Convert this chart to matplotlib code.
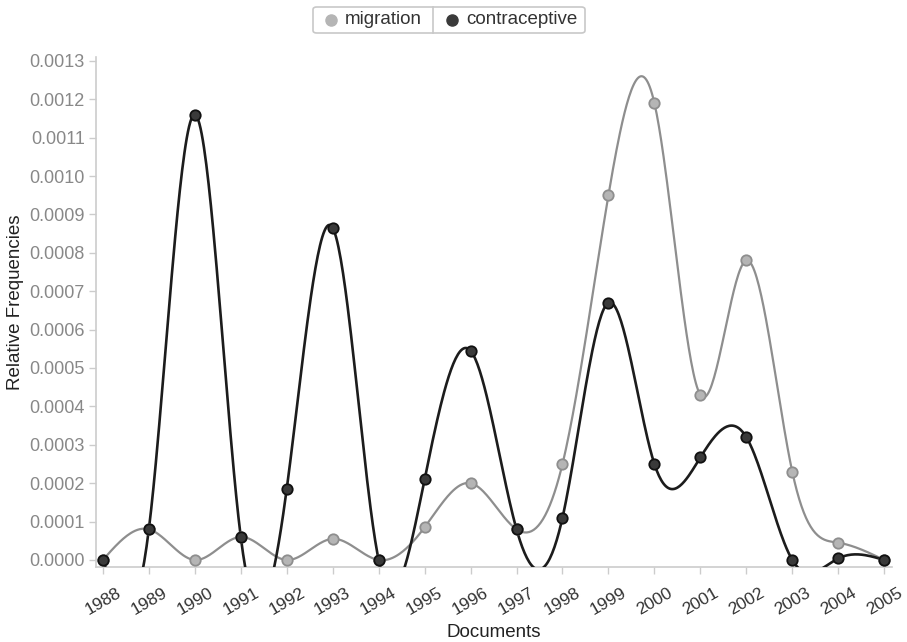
import numpy as np
import matplotlib
matplotlib.use("Agg")
import matplotlib.pyplot as plt
from matplotlib.lines import Line2D
from matplotlib.patches import FancyBboxPatch

plt.rcParams['font.family'] = ['Liberation Sans', 'DejaVu Sans']

years = ["1988", "1989", "1990", "1991", "1992", "1993", "1994", "1995", "1996",
         "1997", "1998", "1999", "2000", "2001", "2002", "2003", "2004", "2005"]
migration = [0.0, 0.00008, 0.0, 0.00006, 0.0, 0.000055, 0.0, 0.000085, 0.0002,
             0.00008, 0.00025, 0.00095, 0.00119, 0.00043, 0.00078, 0.00023, 0.000045, 0.0]
contraceptive = [0.0, 0.00008, 0.00116, 0.00006, 0.000185, 0.000865, 0.0, 0.00021, 0.000545,
                 0.00008, 0.00011, 0.00067, 0.00025, 0.000267, 0.00032, 0.0, 0.000004, 0.0]
series_names = ["migration", "contraceptive"]
yticks = [i * 0.0001 for i in range(14)]


def natural_spline(y, per=40):
    y = np.asarray(y, float)
    n = len(y)
    A = np.zeros((n, n))
    b = np.zeros(n)
    A[0, 0] = 1
    A[-1, -1] = 1
    for i in range(1, n - 1):
        A[i, i - 1] = 1
        A[i, i] = 4
        A[i, i + 1] = 1
        b[i] = 6 * (y[i + 1] - 2 * y[i] + y[i - 1])
    M = np.linalg.solve(A, b)
    xs, ys = [], []
    for i in range(n - 1):
        t = np.linspace(0, 1, per, endpoint=(i == n - 2))
        s = ((1 - t) * y[i] + t * y[i + 1]
             + ((1 - t) ** 3 - (1 - t)) * M[i] / 6
             + (t ** 3 - t) * M[i + 1] / 6)
        xs.append(i + t)
        ys.append(s)
    return np.concatenate(xs), np.concatenate(ys)


fig = plt.figure(figsize=(9.07, 6.42), dpi=100)
ax = fig.add_axes([96 / 907, 1 - 567 / 642, (892 - 96) / 907, (567 - 57) / 642])

x = np.arange(len(years))
grey_line = "#8e8e8e"
grey_fill = "#b5b5b5"
dark_line = "#1c1c1c"
dark_fill = "#3a3a3a"

sx, sy = natural_spline(migration)
ax.plot(sx, sy, color=grey_line, lw=1.6, zorder=2)
sx2, sy2 = natural_spline(contraceptive)
ax.plot(sx2, sy2, color=dark_line, lw=1.9, zorder=3)
ax.plot(x, migration, ls="none", marker="o", ms=7.5, mfc=grey_fill, mec=grey_line, mew=1.3, zorder=4)
ax.plot(x, contraceptive, ls="none", marker="o", ms=7.5, mfc=dark_fill, mec="#111111", mew=1.3, zorder=5)

ax.set_xlim(-0.15, len(years) - 1 + 0.17)
ax.set_ylim(-0.0000183, 0.00131)

ax.set_xticks(x)
ax.set_xticklabels(years, rotation=30, ha="center", va="top", fontsize=12.5, color="#333333")
ax.set_yticks(yticks)
ax.set_yticklabels([f"{v:.4f}" for v in yticks], fontsize=13, color="#888888")

for s in ["top", "right"]:
    ax.spines[s].set_visible(False)
for s in ["left", "bottom"]:
    ax.spines[s].set_color("#cccccc")
    ax.spines[s].set_linewidth(1.2)
ax.tick_params(axis="both", colors="#cccccc", length=5, width=1)
ax.tick_params(axis="x", labelcolor="#333333", pad=8)
ax.tick_params(axis="y", labelcolor="#888888", pad=3)

ax.set_xlabel("Documents", fontsize=13.5, color="#222222", labelpad=5)
ax.set_ylabel("Relative Frequencies", fontsize=13.5, color="#222222")
ax.yaxis.set_label_coords(-0.0905, 0.52)

# legend box
W, H = 907, 642
box = FancyBboxPatch((313 / W, 1 - 33 / H), (585 - 313) / W, 26 / H,
                     boxstyle="round,pad=0,rounding_size=0.004", transform=fig.transFigure,
                     fc="white", ec="#c8c8c8", lw=1.2)
fig.patches.append(box)
fig.add_artist(Line2D([433 / W, 433 / W], [1 - 33 / H, 1 - 7 / H], transform=fig.transFigure,
                      color="#c8c8c8", lw=1.2))
fig.add_artist(Line2D([331 / W], [1 - 20 / H], transform=fig.transFigure, marker="o", ms=8,
                      mfc=grey_fill, mec=grey_fill, ls="none"))
fig.text(345 / W, 1 - 20 / H, series_names[0], fontsize=13.5, color="#333333", va="center", ha="left")
fig.add_artist(Line2D([452 / W], [1 - 20 / H], transform=fig.transFigure, marker="o", ms=8,
                      mfc=dark_fill, mec=dark_fill, ls="none"))
fig.text(466 / W, 1 - 20 / H, series_names[1], fontsize=13.5, color="#333333", va="center", ha="left")

fig.savefig("out.png", dpi=100)
